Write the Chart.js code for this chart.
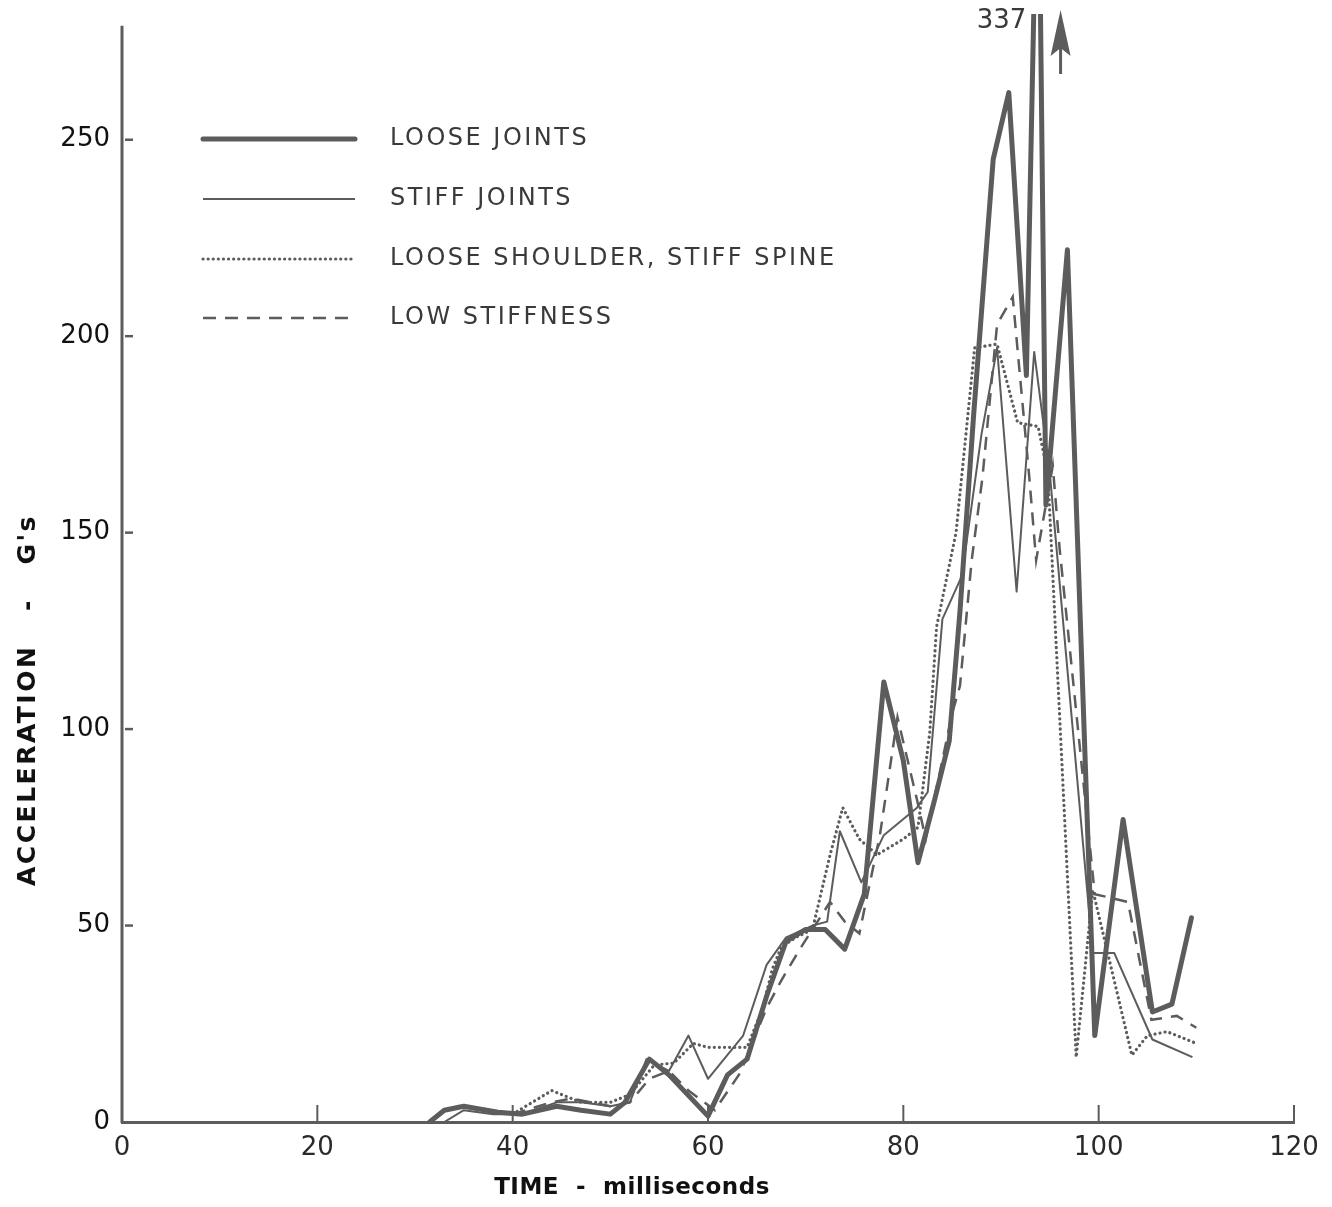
<!DOCTYPE html>
<html>
<head>
<meta charset="utf-8">
<script src="https://cdn.jsdelivr.net/npm/chart.js@4.4.1/dist/chart.umd.min.js"></script>
<style>
  html, body { margin: 0; padding: 0; background: #ffffff; }
  #wrap { width: 1332px; height: 1207px; position: relative; }
</style>
</head>
<body>
<div id="wrap"><canvas id="c" width="1332" height="1207"></canvas></div>
<script>
// ---- Data ----
const seriesNames = ["LOOSE JOINTS", "STIFF JOINTS", "LOOSE SHOULDER, STIFF SPINE", "LOW STIFFNESS"];

const looseT = [31.5,33,35,38.5,41,44.5,47,50,51.5,54,56,60,62,64,66,68,70,72,74,76,78,80,81.5,83.2,84.7,85.8,87.2,89.2,90.8,92.6,93.8,94.6,96.8,99.6,102.5,105.5,107.5,109.5];
const looseG = [0,3,4,2.5,2,4,3,2,5,16,12,1.5,12,16,32,46,49,49,44,58,112,92,66,82,97,130,180,245,262,190,337,157,222,22,77,28,30,52];

const stiffT = [33,35,38,41,44.5,47,50,52,53.7,56,58,60,63.6,66,68,70.7,72.2,73.5,75.7,78,81.4,82.5,84,86,88,89.6,91.6,93.4,95,99.4,101.6,105.5,109.6];
const stiffG = [0,3,2,2,5,5,4,5,16,13,22,11,22,40,47,50,51,74,61,73,80,84,128,139,175,197,135,196,165,43,43,21,16.5];

const shoulderT = [40,42,44,45,47,50,52,54.5,56.5,58.5,60,62.5,64,65.6,66.6,67.5,69,70.7,72.5,73.8,75.5,77.3,80,81.5,82.7,83.4,85.4,87.3,89.6,91.7,93.8,94.8,97.7,99.4,103.4,105,107,110];
const shoulderG = [2,5,8,7,5,5,7,14.5,15,20,19,19,19,29,39,44.5,47,49,68,80,72,68,72,75,99,126,150,197,198,178,177,165,16.5,59,17,22,23,20];

const lowT = [40,44,46,50,52,54,56,58,60.7,63.3,66,67.5,69.4,72.5,74,75.5,77.6,79.4,81.4,82.3,85,85.8,87,88.1,89.6,91.2,92.9,93.6,95.3,96,99.6,103,105.4,108,110];
const lowG = [2,5,6,4,5,11,13,8,3,12.5,29,36,44,56,51,48,73,103,82,72,104,111,143,164,203,210,164,143,167,146,58,56,26,27,24];

const xTicks = [0,20,40,60,80,100,120];
const yTicks = [0,50,100,150,200,250];
const peakLabel = "337";

// ---- helpers ----
function pts(t, g) { return t.map((v, i) => ({ x: v, y: g[i] })); }
const INK = "#5c5c5c";

const overlay = {
  id: "overlay",
  afterDraw(chart) {
    const ctx = chart.ctx;
    const xs = chart.scales.x, ys = chart.scales.y;
    const ca = chart.chartArea;
    ctx.save();
    // y axis line
    ctx.strokeStyle = INK;
    ctx.lineWidth = 3;
    ctx.beginPath();
    ctx.moveTo(ca.left, ys.getPixelForValue(279));
    ctx.lineTo(ca.left, ys.getPixelForValue(0) + 1);
    ctx.stroke();
    // y tick marks (inside)
    ctx.lineWidth = 2.5;
    yTicks.forEach(v => {
      if (v === 0) return;
      const y = ys.getPixelForValue(v);
      ctx.beginPath(); ctx.moveTo(ca.left + 3, y); ctx.lineTo(ca.left + 11, y); ctx.stroke();
    });
    // x tick marks (upward)
    ctx.lineWidth = 2;
    xTicks.forEach(v => {
      if (v === 0) return;
      const x = xs.getPixelForValue(v);
      ctx.beginPath(); ctx.moveTo(x, ys.getPixelForValue(0)); ctx.lineTo(x, ys.getPixelForValue(0) - 17); ctx.stroke();
    });

    // legend
    const lx0 = ca.left + 81, lx1 = ca.left + 233, tx = ca.left + 268;
    const rows = [139, 199, 259, 318];
    ctx.font = "24px 'DejaVu Sans'";
    ctx.letterSpacing = "2.5px";
    ctx.textBaseline = "middle";
    ctx.textAlign = "left";
    chart.data.datasets.forEach((ds, i) => {
      const y = rows[i];
      ctx.strokeStyle = ds.borderColor;
      ctx.lineWidth = ds.borderWidth;
      ctx.lineCap = ds.borderCapStyle || "butt";
      ctx.setLineDash(ds.borderDash || []);
      ctx.beginPath(); ctx.moveTo(lx0, y); ctx.lineTo(lx1, y); ctx.stroke();
      ctx.setLineDash([]);
      ctx.fillStyle = "#3a3a3a";
      ctx.fillText(ds.label, tx, y);
    });

    // peak annotation "337" and arrow
    ctx.letterSpacing = "0px";
    ctx.fillStyle = "#3a3a3a";
    ctx.font = "26px 'DejaVu Sans'";
    ctx.textAlign = "right";
    ctx.fillText(peakLabel, xs.getPixelForValue(92.6), 21);
    const ax = xs.getPixelForValue(96.1);
    ctx.strokeStyle = INK; ctx.fillStyle = INK; ctx.lineWidth = 3; ctx.lineCap = "butt";
    ctx.beginPath(); ctx.moveTo(ax, 74); ctx.lineTo(ax, 30); ctx.stroke();
    ctx.beginPath();
    ctx.moveTo(ax, 10); ctx.lineTo(ax - 10, 56); ctx.lineTo(ax, 48); ctx.lineTo(ax + 10, 56); ctx.closePath(); ctx.fill();

    // axis titles
    ctx.fillStyle = "#111";
    ctx.font = "bold 23px 'DejaVu Sans'";
    ctx.letterSpacing = "0.5px";
    ctx.textAlign = "center";
    ctx.fillText("TIME  -  milliseconds", 632, 1188);
    ctx.translate(28, 700);
    ctx.rotate(-Math.PI / 2);
    ctx.font = "bold 25px 'DejaVu Sans'";
    ctx.letterSpacing = "2.5px";
    ctx.fillText("ACCELERATION   -   G's", 0, 0);
    ctx.restore();
  }
};

new Chart(document.getElementById("c"), {
  type: "line",
  data: {
    datasets: [
      { label: seriesNames[0], data: pts(looseT, looseG), borderColor: INK, borderWidth: 5, borderCapStyle: "round", borderJoinStyle: "round" },
      { label: seriesNames[1], data: pts(stiffT, stiffG), borderColor: INK, borderWidth: 2, borderJoinStyle: "round" },
      { label: seriesNames[2], data: pts(shoulderT, shoulderG), borderColor: INK, borderWidth: 3.2, borderDash: [0.1, 5], borderCapStyle: "round" },
      { label: seriesNames[3], data: pts(lowT, lowG), borderColor: INK, borderWidth: 2.5, borderDash: [13, 9] }
    ]
  },
  options: {
    responsive: false,
    animation: false,
    devicePixelRatio: 1,
    layout: { padding: { top: 14, right: 38, left: 0, bottom: 0 } },
    elements: { line: { tension: 0, fill: false }, point: { radius: 0, hoverRadius: 0 } },
    plugins: { legend: { display: false }, tooltip: { enabled: false } },
    scales: {
      x: {
        type: "linear", min: 0, max: 120,
        afterFit(s) { s.height = 85; s.paddingLeft = 0; s.paddingRight = 0; },
        afterBuildTicks(s) { s.ticks = xTicks.map(v => ({ value: v })); },
        grid: { display: false, drawTicks: false },
        border: { display: true, color: INK, width: 3 },
        ticks: { padding: 11, color: "#2a2a2a", font: { family: "DejaVu Sans", size: 26 } }
      },
      y: {
        type: "linear", min: 0, max: 282,
        afterFit(s) { s.width = 122; s.paddingTop = 0; s.paddingBottom = 0; },
        afterBuildTicks(s) { s.ticks = yTicks.map(v => ({ value: v })); },
        grid: { display: false, drawTicks: false },
        border: { display: false },
        ticks: { padding: 12, color: "#111", font: { family: "DejaVu Sans", size: 26 } }
      }
    }
  },
  plugins: [overlay]
});
</script>
</body>
</html>
